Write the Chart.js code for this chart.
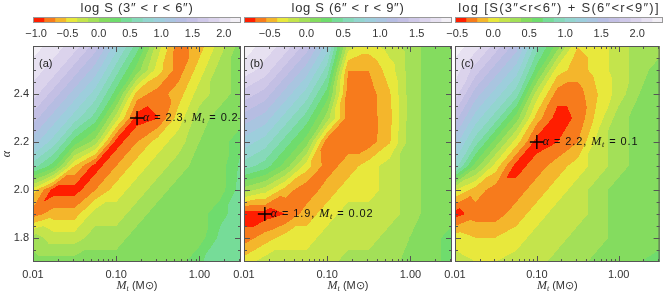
<!DOCTYPE html>
<html>
<head>
<meta charset="utf-8">
<script src="https://cdn.jsdelivr.net/npm/chart.js@4.4.0/dist/chart.umd.min.js"></script>
<style>
  body { margin: 0; background: #fff; }
  #wrap { position: relative; width: 668px; height: 295px; }
  canvas { position: absolute; left: 0; top: 0; }
</style>
</head>
<body>
<div id="wrap">
  <canvas id="barA" width="668" height="295"></canvas>
  <canvas id="barB" width="668" height="295"></canvas>
  <canvas id="barC" width="668" height="295"></canvas>
  <canvas id="panelA" width="668" height="295"></canvas>
  <canvas id="panelB" width="668" height="295"></canvas>
  <canvas id="panelC" width="668" height="295"></canvas>
</div>
<script>
// grid of the model: truncation mass (M_sun) and slope alpha
const massGrid = [0.01, 0.0178, 0.0316, 0.0562, 0.1, 0.178, 0.316, 0.562, 1.0, 1.78, 3.16];
const alphaGrid = [1.7, 1.8, 1.9, 2.0, 2.1, 2.2, 2.3, 2.4, 2.5, 2.6];

// log S, one row per alpha (1.7 first), one column per mass
const logS_a = [
  [0.09, 0.09, 0.09, 0.09, 0.09, 0.09, 0.09, 0.09, 0.33, 0.44, 0.44],
  [-0.09, -0.26, -0.26, -0.09, -0.09, 0.09, 0.09, 0.09, 0.09, 0.40, 0.44],
  [-0.79, -0.61, -0.61, -0.26, -0.26, -0.09, 0.09, 0.09, 0.09, 0.30, 0.44],
  [-0.44, -0.96, -0.96, -0.70, -0.44, -0.26, -0.09, 0.09, 0.09, 0.09, 0.44],
  [0.61, 0.26, -0.53, -0.96, -0.70, -0.44, -0.26, -0.09, 0.09, 0.09, 0.40],
  [1.14, 0.79, 0.26, -0.09, -0.96, -0.70, -0.44, -0.26, 0.00, 0.09, 0.30],
  [1.49, 1.14, 0.79, 0.44, -0.26, -0.96, -0.88, -0.44, -0.09, 0.09, 0.09],
  [1.84, 1.49, 1.14, 0.79, 0.26, -0.61, -0.79, -0.61, -0.26, -0.09, 0.09],
  [2.01, 1.84, 1.49, 1.14, 0.61, 0.09, -0.44, -0.79, -0.44, -0.09, 0.09],
  [2.19, 2.01, 1.84, 1.49, 0.96, 0.44, -0.26, -0.79, -0.61, -0.26, 0.09]
];
const logS_b = [
  [-0.33, -0.18, -0.18, -0.18, -0.18, -0.03, -0.03, -0.03, 0.12, 0.12, 0.27],
  [-0.63, -0.48, -0.33, -0.33, -0.18, -0.18, -0.18, -0.03, 0.05, 0.12, 0.27],
  [-0.78, -0.78, -0.70, -0.48, -0.33, -0.18, -0.18, -0.18, -0.03, 0.12, 0.12],
  [-0.03, -0.18, -0.48, -0.66, -0.48, -0.33, -0.33, -0.18, -0.03, 0.12, 0.12],
  [0.57, 0.42, 0.12, -0.33, -0.63, -0.48, -0.33, -0.18, -0.03, 0.12, 0.12],
  [0.87, 0.72, 0.42, 0.12, -0.66, -0.63, -0.63, -0.42, -0.03, 0.12, 0.12],
  [1.17, 1.02, 0.72, 0.42, -0.03, -0.63, -0.63, -0.45, -0.03, 0.12, 0.12],
  [1.47, 1.32, 1.02, 0.72, 0.27, -0.63, -0.63, -0.42, -0.03, 0.12, 0.12],
  [1.77, 1.62, 1.32, 1.02, 0.57, -0.55, -0.55, -0.33, -0.03, 0.12, 0.12],
  [1.92, 1.77, 1.62, 1.32, 0.87, -0.18, -0.33, -0.18, -0.03, 0.12, 0.12]
];
const logS_c = [
  [0.15, 0.08, 0.08, 0.15, 0.15, 0.31, 0.31, 0.46, 0.46, 0.53, 0.61],
  [0.00, -0.07, -0.07, 0.00, 0.15, 0.15, 0.31, 0.31, 0.46, 0.46, 0.46],
  [-0.45, -0.30, -0.30, -0.15, 0.00, 0.15, 0.15, 0.31, 0.46, 0.46, 0.46],
  [0.08, -0.15, -0.30, -0.30, -0.15, 0.00, 0.15, 0.31, 0.46, 0.46, 0.46],
  [1.07, 0.46, 0.00, -0.45, -0.30, -0.15, 0.00, 0.15, 0.31, 0.46, 0.46],
  [1.37, 0.91, 0.46, 0.00, -0.45, -0.38, -0.23, 0.15, 0.31, 0.46, 0.46],
  [1.67, 1.22, 0.91, 0.46, -0.15, -0.45, -0.35, 0.00, 0.31, 0.46, 0.46],
  [1.98, 1.52, 1.22, 0.91, 0.15, -0.30, -0.30, -0.07, 0.15, 0.38, 0.46],
  [2.13, 1.83, 1.52, 1.22, 0.61, 0.00, -0.15, 0.00, 0.15, 0.31, 0.46],
  [2.28, 2.13, 1.83, 1.52, 0.91, 0.46, -0.07, 0.00, 0.15, 0.31, 0.31]
];

// colour bar ranges and tick labels
const rangeA = [-1.05, 2.275];
const rangeB = [-0.85, 1.98];
const rangeC = [-0.53, 2.358];
const cbarTicks = [-1.0, -0.5, 0.0, 0.5, 1.0, 1.5, 2.0];
const massTicks = [0.01, 0.1, 1.0];
const alphaTicks = [1.8, 2.0, 2.2, 2.4];

// best fits
const fitAlpha = [2.3, 1.9, 2.2];
const fitMass = [0.178, 0.0178, 0.1];
const fitMassText = ['0.2', '0.02', '0.1'];
const panelTags = ['(a)', '(b)', '(c)'];
const cbarTitles = ['log S (3″ < r < 6″)', 'log S (6″ < r < 9″)', 'log [S(3″<r<6″) + S(6″<r<9″)]'];

const bandColors = [
  '#ff1e00', '#f77b1c', '#f4b62c', '#e8e83c', '#c4e44c', '#a3e058', '#84dc5f',
  '#6fdc6d', '#76dc98', '#86d9b9', '#93d5cf', '#9dcedc', '#a9c5e0', '#b6bde2',
  '#c3bfe4', '#cfc8e8', '#dbd3ec', '#e7e1f1', '#f3f0f6'
];

const SANS = '"Liberation Sans", Arial, sans-serif';
const SERIF = '"Liberation Serif", "DejaVu Serif", serif';

function gridPos(arr, v) {
  if (v <= arr[0]) return 0;
  for (let i = 0; i < arr.length - 1; i++) {
    if (v <= arr[i + 1]) return i + (v - arr[i]) / (arr[i + 1] - arr[i]);
  }
  return arr.length - 1;
}

// linear interpolation on triangles (cell split along the rising diagonal),
// which gives the straight-edged contours of the original plot
function sample(grid, fx, fy) {
  const i = Math.min(Math.floor(fx), grid[0].length - 2);
  const j = Math.min(Math.floor(fy), grid.length - 2);
  const tx = fx - i, ty = fy - j;
  const a = grid[j][i], b = grid[j][i + 1], c = grid[j + 1][i], d = grid[j + 1][i + 1];
  if (tx >= ty) return a + (b - a) * tx + (d - b) * ty;
  return a + (c - a) * ty + (d - c) * tx;
}

const rgb = bandColors.map(h => [1, 3, 5].map(k => parseInt(h.slice(k, k + 2), 16)));
const logMass = massGrid.map(Math.log10);

function makeHeatmap(grid, range) {
  return {
    id: 'heatmap',
    beforeDatasetsDraw(chart) {
      const { ctx, chartArea: a, scales: { x, y } } = chart;
      const left = Math.round(a.left), top = Math.round(a.top);
      const w = Math.round(a.right) - left, h = Math.round(a.bottom) - top;
      const img = ctx.createImageData(w, h);
      const step = (range[1] - range[0]) / bandColors.length;
      const fxs = [];
      for (let i = 0; i < w; i++) fxs.push(gridPos(logMass, Math.log10(x.getValueForPixel(left + i + 0.5))));
      for (let j = 0; j < h; j++) {
        const fy = gridPos(alphaGrid, y.getValueForPixel(top + j + 0.5));
        for (let i = 0; i < w; i++) {
          const v = sample(grid, fxs[i], fy);
          let k = Math.floor((v - range[0]) / step);
          k = Math.max(0, Math.min(bandColors.length - 1, k));
          const p = (j * w + i) * 4, c = rgb[k];
          img.data[p] = c[0]; img.data[p + 1] = c[1]; img.data[p + 2] = c[2]; img.data[p + 3] = 255;
        }
      }
      ctx.putImageData(img, left, top);
    }
  };
}

function drawFitLabel(ctx, x, y, alpha, mass) {
  ctx.save();
  ctx.fillStyle = '#111';
  ctx.textBaseline = 'middle';
  ctx.textAlign = 'left';
  ctx.letterSpacing = '0.9px';
  ctx.font = 'italic 12px ' + SERIF;
  ctx.fillText('α', x, y);
  x += ctx.measureText('α').width;
  ctx.font = '11px ' + SANS;
  let s = ' = ' + alpha + ', ';
  ctx.fillText(s, x, y);
  x += ctx.measureText(s).width;
  ctx.font = 'italic 12px ' + SERIF;
  ctx.fillText('M', x, y);
  x += ctx.measureText('M').width;
  ctx.font = 'italic 8px ' + SERIF;
  ctx.fillText('t', x, y + 3);
  x += ctx.measureText('t').width;
  ctx.font = '11px ' + SANS;
  ctx.fillText(' = ' + mass, x, y);
  ctx.restore();
}

function makeDecor(idx) {
  return {
    id: 'decor',
    afterDatasetsDraw(chart) {
      const { ctx, chartArea: a, scales: { x, y } } = chart;
      ctx.save();
      ctx.strokeStyle = '#555';
      ctx.lineWidth = 1;
      ctx.beginPath();
      for (let e = -2; e <= 0; e++) {
        for (let m = 1; m <= 9; m++) {
          const v = m * Math.pow(10, e);
          if (v <= x.min || v >= x.max) continue;
          const px = Math.round(x.getPixelForValue(v)) + 0.5;
          const len = m === 1 ? 6 : 3;
          ctx.moveTo(px, a.bottom); ctx.lineTo(px, a.bottom - len);
          ctx.moveTo(px, a.top); ctx.lineTo(px, a.top + len);
        }
      }
      for (let k = 1; k < 18; k++) {
        const v = 1.7 + k * 0.05;
        const major = Math.abs(v * 5 - Math.round(v * 5)) < 1e-6;
        const py = Math.round(y.getPixelForValue(v)) + 0.5;
        const len = major ? 6 : 3;
        ctx.moveTo(a.left, py); ctx.lineTo(a.left + len, py);
        ctx.moveTo(a.right, py); ctx.lineTo(a.right - len, py);
      }
      ctx.stroke();
      ctx.strokeRect(a.left + 0.5, a.top + 0.5, a.right - a.left - 1, a.bottom - a.top - 1);

      // panel tag
      ctx.fillStyle = '#222';
      ctx.font = '11px ' + SANS;
      ctx.textBaseline = 'middle';
      ctx.textAlign = 'left';
      ctx.fillText(panelTags[idx], a.left + 6, a.top + 18);

      // best fit label
      const fx = x.getPixelForValue(fitMass[idx]);
      const fy = y.getPixelForValue(fitAlpha[idx]);
      drawFitLabel(ctx, fx + 6, fy, fitAlpha[idx].toFixed(1), fitMassText[idx]);

      // x axis title
      const cx = (a.left + a.right) / 2;
      const ty = a.bottom + 24;
      ctx.fillStyle = '#333';
      ctx.font = 'italic 12px ' + SERIF;
      const wM = ctx.measureText('M').width;
      ctx.font = 'italic 8px ' + SERIF;
      const wt = ctx.measureText('t').width;
      ctx.font = '11px ' + SANS;
      const rest = ' (M⊙)';
      const wr = ctx.measureText(rest).width;
      let tx = cx - (wM + wt + wr) / 2;
      ctx.font = 'italic 12px ' + SERIF;
      ctx.fillText('M', tx, ty); tx += wM;
      ctx.font = 'italic 8px ' + SERIF;
      ctx.fillText('t', tx, ty + 3); tx += wt;
      ctx.font = '11px ' + SANS;
      ctx.fillText(rest, tx, ty);
      ctx.restore();
    }
  };
}

function makePanel(id, idx, grid, range, left, right) {
  const showY = idx === 0;
  new Chart(document.getElementById(id), {
    type: 'scatter',
    data: {
      datasets: [{
        data: [{ x: fitMass[idx], y: fitAlpha[idx] }],
        pointStyle: 'cross',
        pointRadius: 7,
        borderWidth: 1.4,
        borderColor: '#000'
      }]
    },
    options: {
      responsive: false,
      animation: false,
      events: [],
      layout: { padding: { left: left - 33, right: 668 - right, top: 46, bottom: 0 } },
      plugins: { legend: { display: false }, tooltip: { enabled: false } },
      scales: {
        x: {
          type: 'logarithmic',
          min: massGrid[0],
          max: massGrid[massGrid.length - 1],
          afterFit(s) { s.height = 33; },
          afterBuildTicks(s) { s.ticks = massTicks.map(v => ({ value: v, major: true })); },
          grid: { display: false, drawTicks: false },
          border: { display: false },
          ticks: {
            padding: 6,
            maxRotation: 0,
            autoSkip: false,
            color: '#333',
            font: { family: SANS, size: 11 },
            callback: v => Number(v).toFixed(2)
          }
        },
        y: {
          type: 'linear',
          min: alphaGrid[0],
          max: alphaGrid[alphaGrid.length - 1],
          afterFit(s) { s.width = 33; },
          afterBuildTicks(s) { s.ticks = alphaTicks.map(v => ({ value: v })); },
          grid: { display: false, drawTicks: false },
          border: { display: false },
          title: { display: showY, text: 'α', color: '#333', padding: 0, font: { family: SERIF, size: 12, style: 'italic' } },
          ticks: {
            display: showY,
            padding: 4,
            color: '#333',
            font: { family: SANS, size: 11 },
            callback: v => Number(v).toFixed(1)
          }
        }
      }
    },
    plugins: [makeHeatmap(grid, range), makeDecor(idx)]
  });
}

function makeColorbar(id, idx, range, left, right, spacing) {
  const step = (range[1] - range[0]) / bandColors.length;
  const datasets = bandColors.map((c, k) => ({
    data: [[range[0] + k * step, range[0] + (k + 1) * step]],
    backgroundColor: c,
    borderWidth: 0,
    barPercentage: 1,
    categoryPercentage: 1,
    grouped: false
  }));
  new Chart(document.getElementById(id), {
    type: 'bar',
    data: { labels: ['S'], datasets },
    options: {
      indexAxis: 'y',
      responsive: false,
      animation: false,
      events: [],
      layout: { padding: { left: left, right: 668 - right, top: 17, bottom: 295 - 23 - 16 } },
      plugins: { legend: { display: false }, tooltip: { enabled: false } },
      scales: {
        y: { type: 'category', display: false },
        x: {
          type: 'linear',
          min: range[0],
          max: range[1],
          afterFit(s) { s.height = 16; },
          afterBuildTicks(s) { s.ticks = cbarTicks.filter(v => v >= s.min && v <= s.max).map(v => ({ value: v })); },
          grid: { display: false, drawTicks: false },
          border: { display: false },
          ticks: {
            padding: 4,
            maxRotation: 0,
            autoSkip: false,
            color: '#333',
            font: { family: SANS, size: 11 },
            callback: v => (v < 0 ? '−' : '') + Math.abs(v).toFixed(1)
          }
        }
      }
    },
    plugins: [{
      id: 'cbarFrame',
      afterDraw(chart) {
        const { ctx, chartArea: a } = chart;
        ctx.save();
        ctx.strokeStyle = '#999';
        ctx.lineWidth = 1;
        ctx.strokeRect(a.left + 0.5, a.top + 0.5, a.right - a.left - 1, a.bottom - a.top - 1);
        ctx.fillStyle = '#333';
        ctx.font = '13px ' + SANS;
        ctx.letterSpacing = spacing + 'px';
        ctx.textAlign = 'center';
        ctx.textBaseline = 'middle';
        ctx.fillText(cbarTitles[idx], (a.left + a.right) / 2, 8);
        ctx.restore();
      }
    }]
  });
}

makeColorbar('barA', 0, rangeA, 33, 241, 0.7);
makeColorbar('barB', 1, rangeB, 244, 452, 0.7);
makeColorbar('barC', 2, rangeC, 455, 663, 1.3);
makePanel('panelA', 0, logS_a, rangeA, 33, 241);
makePanel('panelB', 1, logS_b, rangeB, 244, 452);
makePanel('panelC', 2, logS_c, rangeC, 455, 663);
</script>
</body>
</html>
